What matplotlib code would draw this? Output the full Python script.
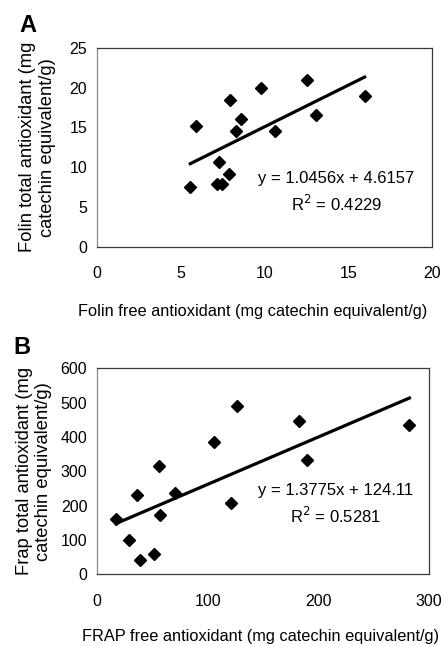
"""Folin and FRAP antioxidant correlations (free vs total), two stacked panels."""

import matplotlib
matplotlib.use("Agg")
import matplotlib.pyplot as plt
import numpy as np

plt.rcParams["font.family"] = ["Liberation Sans", "DejaVu Sans"]

# panel A: Folin
folin_free = [5.57, 5.93, 7.28, 7.16, 7.48, 7.86, 7.94, 8.32, 8.62, 9.81, 10.6, 12.56, 13.1, 15.98]
folin_total = [7.56, 15.2, 10.6, 7.86, 7.86, 9.16, 18.5, 14.6, 16.1, 20.0, 14.6, 20.9, 16.6, 18.95]
folin_fit = (1.0456, 4.6157)
folin_r2 = 0.4229

# panel B: FRAP
frap_free = [17.1, 28.6, 36.4, 38.5, 51.4, 55.9, 57.1, 70.9, 106, 121, 126.5, 182.7, 189.7, 282.5]
frap_total = [162, 101, 232, 41, 60, 314, 172, 238, 385, 207, 491, 446, 334, 435]
frap_fit = (1.3775, 124.11)
frap_r2 = 0.5281

FS = 11.5
EDGE = "#3a3a3a"


def panel(ax, x, y, fit, r2, xlim, ylim, xticks, yticks, xlabel, ylabel,
          eq_xy, xlab_pos, ylab_pos):
    x = np.asarray(x)
    xs = np.array([x.min(), x.max()])
    ax.plot(xs, fit[0] * xs + fit[1], color="black", lw=2.3, zorder=2)
    ax.plot(x, y, "D", color="black", markersize=6.5, zorder=3)
    ax.set_xlim(*xlim)
    ax.set_ylim(*ylim)
    ax.set_xticks(xticks)
    ax.set_yticks(yticks)
    ax.tick_params(axis="both", length=0, labelsize=FS)
    ax.tick_params(axis="x", pad=14)
    ax.tick_params(axis="y", pad=7)
    for s in ax.spines.values():
        s.set_color(EDGE)
        s.set_linewidth(0.9)
    ax.spines["left"].set_color("#8a8a8a")
    ax.set_xlabel(xlabel, fontsize=11.8)
    ax.xaxis.set_label_coords(*xlab_pos)
    ax.set_ylabel(ylabel, fontsize=13.2, linespacing=1.2)
    ax.yaxis.set_label_coords(*ylab_pos)
    sign = "+" if fit[1] >= 0 else "-"
    ax.text(eq_xy[0], eq_xy[1], f"y = {fit[0]}x {sign} {abs(fit[1])}",
            ha="center", va="center", fontsize=12)
    ax.text(eq_xy[0], eq_xy[2], f"R$^2$ = {r2}",
            ha="center", va="center", fontsize=12)


fig = plt.figure(figsize=(4.43, 6.46), dpi=100)
ax_a = fig.add_axes([0.219, 0.618, 0.756, 0.308])
ax_b = fig.add_axes([0.219, 0.111, 0.749, 0.319])

panel(ax_a, folin_free, folin_total, folin_fit, folin_r2,
      (0, 20), (0, 25), [0, 5, 10, 15, 20], [0, 5, 10, 15, 20, 25],
      "Folin free antioxidant (mg catechin equivalent/g)",
      "Folin total antioxidant (mg\ncatechin equivalent/g)",
      (14.3, 8.6, 5.4), (0.464, -0.286), (-0.123, 0.5))

panel(ax_b, frap_free, frap_total, frap_fit, frap_r2,
      (0, 300), (0, 600), [0, 100, 200, 300], [0, 100, 200, 300, 400, 500, 600],
      "FRAP free antioxidant (mg catechin equivalent/g)",
      "Frap total antioxidant (mg\ncatechin equivalent/g)",
      (216, 244, 169), (0.494, -0.267), (-0.135, 0.5))

fig.text(28 / 443, 1 - 25 / 646, "A", fontsize=17, fontweight="bold",
         ha="center", va="center")
fig.text(22 / 443, 1 - 348 / 646, "B", fontsize=17, fontweight="bold",
         ha="center", va="center")

fig.savefig("out.png", dpi=100)
